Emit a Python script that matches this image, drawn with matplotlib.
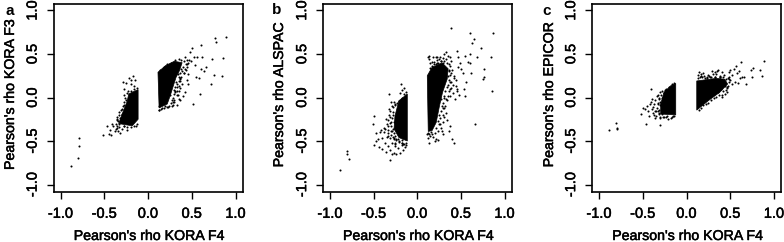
import matplotlib
matplotlib.use('Agg')
import matplotlib.pyplot as plt
import matplotlib.patheffects as pe

plt.rcParams['font.family'] = ['Liberation Sans', 'DejaVu Sans']
plt.rcParams['axes.unicode_minus'] = False

W, H = 784, 242

ticks = [-1.0, -0.5, 0.0, 0.5, 1.0]
tick_labels = ['-1.0', '-0.5', '0.0', '0.5', '1.0']
panel_letters = ['a', 'b', 'c']
y_names = ["Pearson's rho KORA F3", "Pearson's rho ALSPAC", "Pearson's rho EPICOR"]
x_name = "Pearson's rho KORA F4"

# solid parts of the clouds, outlines
a_left_core = [(-0.113, 0.09), (-0.16, 0.07), (-0.22, 0.04), (-0.24, -0.05), (-0.28, -0.15), (-0.335, -0.30), (-0.18, -0.325), (-0.113, -0.25)]
a_right_core = [(0.114, 0.29), (0.2, 0.366), (0.30, 0.416), (0.39, 0.40), (0.36, 0.31), (0.32, 0.23), (0.29, 0.136), (0.26, 0.04), (0.22, -0.075), (0.127, -0.12)]
b_left_core = [(-0.114, 0.04), (-0.21, -0.037), (-0.255, -0.21), (-0.266, -0.36), (-0.21, -0.46), (-0.114, -0.5)]
b_right_core = [(0.115, 0.25), (0.17, 0.347), (0.286, 0.397), (0.354, 0.33), (0.343, 0.213), (0.29, 0.06), (0.255, -0.095), (0.217, -0.287), (0.17, -0.38), (0.126, -0.39)]
c_left_core = [(-0.123, 0.16), (-0.18, 0.135), (-0.257, 0.06), (-0.295, -0.075), (-0.295, -0.19), (-0.123, -0.2)]
c_right_core = [(0.117, 0.19), (0.34, 0.22), (0.437, 0.21), (0.47, 0.155), (0.38, 0.06), (0.245, -0.04), (0.117, -0.145)]

# speckle along the edges of the clouds
a_edge = [(0.34, 0.27), (0.32, 0.18), (0.35, 0.24), (0.30, 0.09), (0.33, 0.16), (0.31, 0.12), (0.28, 0.0), (0.30, 0.04), (0.33, 0.08),
          (0.27, -0.03), (0.29, -0.05), (0.26, -0.06), (0.28, -0.09), (0.24, -0.10), (0.22, -0.11), (0.18, -0.12), (0.15, -0.13), (0.38, 0.33),
          (0.40, 0.35), (0.42, 0.33), (0.41, 0.42), (0.43, 0.38), (0.44, 0.43), (0.38, 0.43), (0.35, 0.44), (0.31, 0.43), (0.26, 0.40),
          (0.22, 0.38), (0.18, 0.35), (0.14, 0.32), (0.37, 0.28), (0.39, 0.30), (0.35, 0.13), (0.34, 0.03), (0.37, 0.19), (0.13, -0.14),
          (0.25, 0.03), (0.31, 0.07), (0.36, 0.21), (0.41, 0.28), (0.46, 0.40), (0.45, 0.35),
          (-0.24, 0.05), (-0.26, 0.0), (-0.28, -0.05), (-0.25, -0.03), (-0.29, -0.1), (-0.31, -0.14), (-0.33, -0.2), (-0.35, -0.25), (-0.37, -0.3),
          (-0.36, -0.33), (-0.33, -0.34), (-0.30, -0.36), (-0.27, -0.33), (-0.24, -0.34), (-0.2, -0.34), (-0.16, -0.33), (-0.13, -0.3),
          (-0.30, -0.19), (-0.27, -0.09), (-0.23, 0.07), (-0.19, 0.08), (-0.16, 0.1), (-0.13, 0.11), (-0.34, -0.27), (-0.32, -0.23)]
b_edge = [(0.36, 0.30), (0.38, 0.26), (0.36, 0.20), (0.39, 0.18), (0.34, 0.12), (0.32, 0.08), (0.36, 0.08), (0.31, 0.02), (0.33, -0.02),
          (0.30, -0.06), (0.28, -0.10), (0.31, -0.12), (0.27, -0.16), (0.29, -0.20), (0.26, -0.23), (0.24, -0.27), (0.26, -0.31), (0.22, -0.35),
          (0.24, -0.38), (0.20, -0.41), (0.17, -0.42), (0.14, -0.42), (0.12, -0.41), (0.15, 0.34), (0.19, 0.38), (0.23, 0.40), (0.27, 0.42),
          (0.31, 0.42), (0.34, 0.40), (0.37, 0.36), (0.40, 0.32), (0.42, 0.25), (0.44, 0.20), (0.41, 0.14), (0.38, 0.10), (0.45, 0.08),
          (0.30, 0.36), (0.36, 0.38), (0.33, 0.44), (0.29, 0.45), (0.23, 0.43), (0.17, 0.41), (0.31, -0.01), (0.35, 0.02), (0.27, -0.02),
          (-0.27, -0.05), (-0.29, -0.10), (-0.25, -0.08), (-0.31, -0.15), (-0.28, -0.17), (-0.32, -0.20), (-0.29, -0.24), (-0.34, -0.26),
          (-0.31, -0.29), (-0.35, -0.31), (-0.30, -0.33), (-0.37, -0.36), (-0.33, -0.37), (-0.29, -0.38), (-0.38, -0.40), (-0.34, -0.41),
          (-0.30, -0.43), (-0.27, -0.41), (-0.35, -0.45), (-0.31, -0.47), (-0.27, -0.47), (-0.24, -0.49), (-0.29, -0.52), (-0.25, -0.53),
          (-0.21, -0.51), (-0.18, -0.52), (-0.15, -0.53), (-0.13, -0.55), (-0.21, -0.04), (-0.23, -0.06), (-0.18, 0.0), (-0.15, 0.04), (-0.13, 0.06),
          (-0.27, -0.28), (-0.28, -0.36), (-0.26, -0.44), (-0.22, -0.48), (-0.17, -0.49)]
c_edge = [(0.48, 0.18), (0.46, 0.11), (0.44, 0.13), (0.42, 0.07), (0.40, 0.03), (0.37, 0.03), (0.34, 0.01), (0.31, -0.01), (0.28, -0.03),
          (0.25, -0.06), (0.22, -0.07), (0.19, -0.09), (0.16, -0.12), (0.14, -0.14), (0.13, 0.22), (0.18, 0.23), (0.23, 0.22), (0.28, 0.23),
          (0.33, 0.23), (0.38, 0.23), (0.42, 0.23), (0.45, 0.21), (0.49, 0.24), (0.43, 0.16), (0.39, 0.10), (0.36, 0.06), (0.47, 0.13), (0.50, 0.20),
          (-0.26, 0.05), (-0.29, 0.03), (-0.31, -0.02), (-0.33, -0.07), (-0.30, -0.09), (-0.34, -0.12), (-0.31, -0.14), (-0.36, -0.16), (-0.32, -0.19),
          (-0.35, -0.21), (-0.30, -0.22), (-0.26, -0.22), (-0.22, -0.21), (-0.17, -0.22), (-0.14, -0.21), (-0.20, 0.12), (-0.17, 0.15), (-0.14, 0.17),
          (-0.23, 0.09), (-0.28, 0.0), (-0.30, -0.05), (-0.33, -0.15), (-0.38, -0.11), (-0.37, -0.20)]

# loose points
a_x = [-0.88, -0.80, -0.79, -0.79, -0.52, -0.47, -0.45, -0.44, -0.42, -0.41, -0.38, -0.36, -0.35, -0.33, -0.33, -0.32, -0.40, -0.37, -0.35,
       -0.34, -0.31, -0.30, -0.29, -0.28, -0.27, -0.27, -0.25, -0.22, -0.20, -0.19, -0.17, -0.15, -0.14, -0.16, -0.24, -0.30,
       0.12, 0.13, 0.16, 0.19, 0.23, 0.27, 0.30, 0.33, 0.35, 0.37, 0.36, 0.40, 0.42, 0.24, 0.27, 0.29, 0.31, 0.33, 0.35, 0.37, 0.39,
       0.30, 0.33, 0.35, 0.38, 0.41, 0.44, 0.46, 0.47, 0.49, 0.52, 0.54, 0.55, 0.56, 0.58, 0.60, 0.61, 0.62, 0.64, 0.66, 0.72,
       0.73, 0.75, 0.76, 0.78, 0.85, 0.86, 0.89, 0.51, 0.59, 0.42, 0.45, 0.48, 0.50, 0.43, 0.46]
a_y = [-0.79, -0.70, -0.56, -0.46, -0.43, -0.33, -0.42, -0.37, -0.43, -0.31, -0.39, -0.26, -0.35, -0.17, -0.30, -0.41, -0.33, -0.36, -0.22,
       -0.38, -0.24, -0.20, 0.18, -0.33, 0.10, 0.03, 0.17, 0.22, 0.15, 0.20, 0.25, 0.20, -0.33, 0.13, -0.37, -0.13,
       -0.14, -0.10, -0.12, -0.10, -0.11, -0.10, -0.05, -0.09, -0.02, -0.03, 0.11, 0.02, 0.06, 0.33, 0.37, 0.36, 0.06, 0.12, 0.19, 0.22, 0.15,
       -0.03, 0.03, 0.08, 0.24, 0.28, 0.20, 0.15, 0.43, 0.42, 0.47, 0.37, 0.24, 0.47, 0.22, 0.33, 0.60, 0.47, 0.30, 0.35, 0.16,
       0.44, 0.26, 0.68, 0.64, 0.25, 0.45, 0.69, -0.07, 0.04, 0.46, 0.39, 0.52, 0.57, 0.32, 0.27]

b_x = [-0.88, -0.81, -0.80, -0.78, -0.51, -0.49, -0.49, -0.47, -0.47, -0.45, -0.44, -0.43, -0.42, -0.40, -0.40, -0.38, -0.37, -0.36, -0.36, -0.34, -0.33, -0.32,
       -0.32, -0.31, -0.31, -0.30, -0.29, -0.28, -0.27, -0.26, -0.24, -0.22, -0.20, -0.18, -0.16, -0.14, -0.13, -0.30, -0.27, -0.25, -0.20, -0.19, -0.17, -0.15,
       -0.33, -0.31, -0.30, -0.28, -0.26, -0.28, -0.24, -0.21, -0.18, -0.16,
       0.12, 0.13, 0.14, 0.15, 0.15, 0.11, 0.12, 0.14, 0.16, 0.18, 0.20, 0.22, 0.18, 0.21, 0.23, 0.25, 0.26, 0.27, 0.29, 0.31, 0.33,
       0.35, 0.37, 0.39, 0.24, 0.25, 0.27, 0.29, 0.31, 0.33, 0.34, 0.36, 0.38, 0.40, 0.42, 0.44, 0.46, 0.48, 0.32, 0.35, 0.37, 0.39, 0.41, 0.43,
       0.28, 0.30, 0.32, 0.34, 0.37, 0.42, 0.26, 0.24, 0.22, 0.19, 0.17, 0.25, 0.30, 0.35, 0.36, 0.39, 0.47,
       0.47, 0.49, 0.50, 0.52, 0.55, 0.56, 0.58, 0.60, 0.61, 0.62, 0.63, 0.65, 0.68, 0.73, 0.75, 0.76, 0.77, 0.84, 0.86, 0.87, 0.66, 0.53, 0.45, 0.39, 0.55, 0.60]
b_y = [-0.83, -0.62, -0.65, -0.71, -0.31, -0.21, -0.55, -0.41, -0.50, -0.48, -0.57, -0.40, -0.37, -0.47, -0.59, -0.35, -0.52, -0.25, -0.63, -0.44, -0.56, 0.04,
       -0.13, -0.72, -0.60, -0.05, -0.65, -0.45, -0.64, -0.52, -0.65, -0.58, -0.64, -0.55, -0.60, -0.57, -0.52, -0.38, -0.48, -0.56, 0.05, 0.16, 0.09, 0.11,
       -0.33, -0.22, -0.28, -0.11, -0.09, -0.20, -0.48, -0.50, -0.52, -0.53,
       0.47, 0.44, 0.48, 0.40, -0.44, -0.42, -0.47, -0.52, -0.40, -0.45, -0.50, -0.48, 0.47, 0.47, 0.47, 0.44, 0.47, 0.42, 0.40, 0.50, 0.52,
       0.48, 0.46, 0.42, -0.49, -0.30, -0.35, -0.28, -0.22, -0.18, -0.26, -0.38, -0.33, -0.48, -0.52, 0.13, 0.10, 0.03, 0.32, 0.25, 0.18, 0.11, 0.05, -0.02,
       -0.38, -0.42, -0.10, -0.03, 0.02, 0.22, 0.38, 0.40, 0.38, 0.41, 0.36, -0.20, -0.12, 0.14, 0.32, 0.28, 0.35,
       0.47, 0.40, 0.33, 0.28, 0.48, 0.18, 0.41, 0.50, 0.40, 0.28, 0.63, 0.67, 0.46, 0.57, 0.21, 0.24, 0.33, 0.47, 0.08, 0.74, -0.31, 0.10, 0.54, 0.80, 0.02, 0.74]

c_x = [-0.89, -0.81, -0.80, -0.79, -0.52, -0.50, -0.47, -0.46, -0.45, -0.44, -0.43, -0.42, -0.41, -0.41, -0.40, -0.39, -0.38, -0.37, -0.36, -0.36, -0.35, -0.34, -0.33, -0.32,
       -0.31, -0.30, -0.30, -0.28, -0.27, -0.25, -0.23, -0.21, -0.19, -0.18, -0.16, -0.33, -0.30, -0.28, -0.24,
       0.13, 0.14, 0.15, 0.16, 0.17, 0.19, 0.21, 0.24, 0.27, 0.30, 0.32, 0.35, 0.38, 0.20, 0.23, 0.26, 0.29, 0.32, 0.34, 0.36, 0.38, 0.40, 0.43, 0.41, 0.44, 0.45,
       0.47, 0.44, 0.46, 0.48, 0.50, 0.52, 0.54, 0.55, 0.56, 0.58, 0.60, 0.61, 0.62, 0.63, 0.66, 0.68, 0.74, 0.75, 0.76, 0.84, 0.86, 0.89, 0.46, 0.49, 0.52, 0.59]
c_y = [-0.37, -0.29, -0.36, -0.35, -0.19, -0.12, -0.13, -0.31, -0.10, -0.16, -0.21, -0.08, 0.10, -0.05, -0.13, -0.02, -0.18, -0.08, -0.23, -0.03, -0.15, 0.02, -0.06, -0.18,
       -0.01, 0.06, -0.32, 0.07, -0.22, 0.09, -0.22, -0.25, 0.11, -0.24, -0.21, 0.03, -0.24, -0.19, 0.10,
       0.26, 0.29, 0.23, 0.27, 0.25, 0.28, 0.22, 0.26, 0.24, 0.27, 0.24, 0.31, 0.25, 0.25, 0.24, 0.25, 0.30, 0.29, 0.27, 0.32, 0.24, 0.29, 0.26, 0.01, 0.04, 0.09,
       0.22, 0.15, 0.12, 0.29, 0.32, 0.26, 0.33, 0.18, 0.36, 0.28, 0.31, 0.22, 0.41, 0.24, 0.23, 0.15, 0.32, 0.24, 0.34, 0.32, 0.25, 0.42, 0.06, 0.21, 0.15, 0.17]

panel_x = [a_x, b_x, c_x]
panel_y = [a_y, b_y, c_y]
left_cores = [a_left_core, b_left_core, c_left_core]
right_cores = [a_right_core, b_right_core, c_right_core]
edges = [a_edge, b_edge, c_edge]

# box edges in pixels: left, right
boxes = [(53.5, 242.5), (323, 511.5), (592, 781)]
top_px, bottom_px = 3.5, 191.5
ylabel_px = [10, 279, 549]
letter_px = [(10, 11), (277, 10), (547, 11)]

heavy = [pe.withStroke(linewidth=0.35, foreground='black')]

fig = plt.figure(figsize=(W / 100, H / 100), dpi=100)

for i in range(3):
    l, r = boxes[i]
    ax = fig.add_axes([l / W, 1 - bottom_px / H, (r - l) / W, (bottom_px - top_px) / H])
    ax.set_xlim(-1.08, 1.08)
    ax.set_ylim(-1.08, 1.08)

    for core in (left_cores[i], right_cores[i]):
        ax.fill([p[0] for p in core], [p[1] for p in core], color='black', lw=0.5)
    ax.scatter(panel_x[i], panel_y[i], s=2.2, c='black', linewidths=0)
    ax.scatter([p[0] for p in edges[i]], [p[1] for p in edges[i]], s=2.2, c='black', linewidths=0)

    ax.set_xticks(ticks)
    ax.set_xticklabels(tick_labels, fontsize=10.5)
    ax.set_yticks(ticks)
    ax.set_yticklabels(tick_labels, fontsize=10.5, rotation=90, va='center')
    ax.tick_params(length=5, width=1, pad=6)
    ax.tick_params(axis='y', pad=5)
    for lab in ax.get_xticklabels() + ax.get_yticklabels():
        lab.set_path_effects(heavy)
    for s in ax.spines.values():
        s.set_linewidth(1.2)

    fig.text((l + r) / 2 / W + 0.001, 1 - 236 / H, x_name, fontsize=10.2,
             ha='center', va='center', path_effects=heavy)
    fig.text(ylabel_px[i] / W, 1 - 95 / H, y_names[i], fontsize=10.2, rotation=90,
             ha='center', va='center', path_effects=heavy)
    fig.text(letter_px[i][0] / W, 1 - letter_px[i][1] / H, panel_letters[i], fontsize=11,
             fontweight='bold', ha='center', va='center')

fig.savefig('out.png', dpi=100, facecolor='white')
